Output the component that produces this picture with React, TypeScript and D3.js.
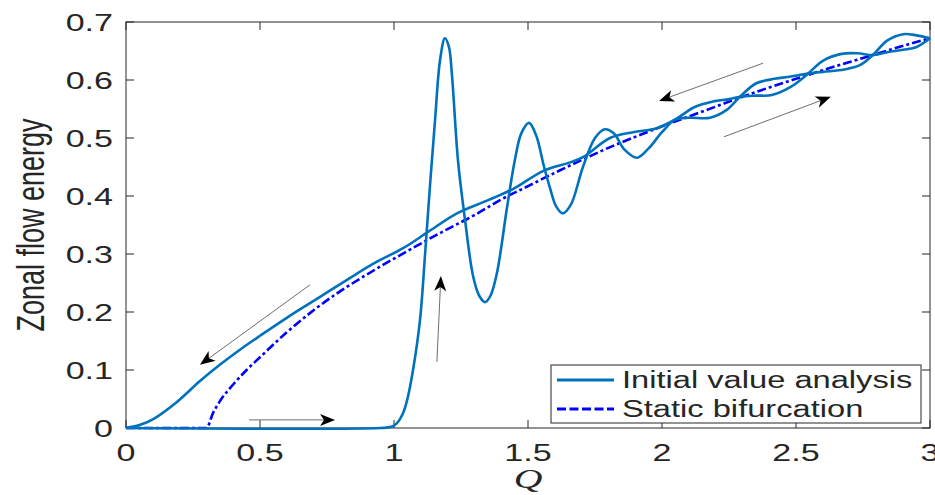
import React from "react";
import * as d3 from "d3";

// Up-sweep of Q (initial value analysis, forward branch)
const Q_UP = [0, 0.95, 0.99, 1.01, 1.034, 1.05, 1.071, 1.097, 1.116, 1.134, 1.153, 1.172, 1.19, 1.205, 1.216, 1.239, 1.265, 1.295, 1.318, 1.34, 1.36, 1.384, 1.422, 1.451, 1.475, 1.504, 1.53, 1.56, 1.582, 1.605, 1.63, 1.66, 1.705, 1.75, 1.787, 1.82, 1.86, 1.907, 1.95, 2.0, 2.05, 2.1, 2.18, 2.24, 2.291, 2.35, 2.42, 2.48, 2.545, 2.6, 2.68, 2.74, 2.787, 2.84, 2.9, 2.95, 3.0];
const E_UP = [0, 0, 0.002, 0.008, 0.026, 0.05, 0.1, 0.186, 0.3, 0.416, 0.53, 0.635, 0.672, 0.657, 0.61, 0.46, 0.359, 0.262, 0.228, 0.217, 0.228, 0.267, 0.381, 0.462, 0.508, 0.526, 0.505, 0.45, 0.414, 0.382, 0.37, 0.385, 0.45, 0.5, 0.515, 0.508, 0.48, 0.466, 0.482, 0.51, 0.532, 0.535, 0.535, 0.548, 0.571, 0.594, 0.602, 0.606, 0.611, 0.614, 0.618, 0.626, 0.643, 0.668, 0.679, 0.677, 0.672];

// Down-sweep of Q (initial value analysis, return branch)
const Q_DOWN = [0, 0.05, 0.1, 0.19, 0.276, 0.35, 0.425, 0.5, 0.6, 0.724, 0.847, 0.93, 1.034, 1.127, 1.235, 1.347, 1.444, 1.556, 1.657, 1.705, 1.806, 1.892, 1.98, 2.05, 2.12, 2.19, 2.25, 2.291, 2.35, 2.41, 2.48, 2.545, 2.6, 2.67, 2.73, 2.787, 2.84, 2.9, 2.95, 3.0];
const E_DOWN = [0, 0.005, 0.015, 0.045, 0.081, 0.109, 0.135, 0.159, 0.19, 0.226, 0.262, 0.285, 0.31, 0.338, 0.37, 0.392, 0.412, 0.443, 0.458, 0.467, 0.5, 0.51, 0.517, 0.532, 0.553, 0.563, 0.567, 0.571, 0.573, 0.574, 0.588, 0.611, 0.633, 0.645, 0.646, 0.643, 0.648, 0.652, 0.657, 0.672];

// Static bifurcation branch
const Q_STATIC = [0, 0.3, 0.325, 0.35, 0.4, 0.45, 0.5, 0.6, 0.7, 0.8, 0.9, 1.0, 1.1, 1.2, 1.3, 1.4, 1.5, 1.6, 1.7, 1.8, 1.9, 2.0, 2.1, 2.2, 2.3, 2.4, 2.5, 2.6, 2.7, 2.8, 2.9, 3.0];
const E_STATIC = [0, 0, 0.026, 0.046, 0.075, 0.1, 0.122, 0.165, 0.203, 0.236, 0.265, 0.292, 0.318, 0.343, 0.367, 0.394, 0.417, 0.44, 0.462, 0.483, 0.502, 0.52, 0.537, 0.554, 0.571, 0.587, 0.602, 0.617, 0.631, 0.645, 0.659, 0.672];

const X_TICKS = [0, 0.5, 1, 1.5, 2, 2.5, 3];
const Y_TICKS = [0, 0.1, 0.2, 0.3, 0.4, 0.5, 0.6, 0.7];

// Sweep-direction arrows, in data units: [Q start, E start, Q end, E end]
const ARROWS: [number, number, number, number][] = [
  [0.687, 0.247, 0.276, 0.109],
  [0.459, 0.014, 0.78, 0.014],
  [1.16, 0.114, 1.175, 0.262],
  [2.377, 0.629, 1.989, 0.564],
  [2.231, 0.502, 2.63, 0.571],
];

const LEGEND = ["Initial value analysis", "Static bifurcation"];

const W = 935;
const H = 495;
const SX = 1.42;
const FONT = "'Liberation Sans', Arial, Helvetica, sans-serif";
const AXIS = "#262626";
const C_IVA = "#0072BD";
const C_STATIC = "#0000FF";

const zip = (a: number[], b: number[]) => a.map((v, i) => [v, b[i]] as [number, number]);

export default function App() {
  const x = d3.scaleLinear().domain([0, 3]).range([126, 930]);
  const y = d3.scaleLinear().domain([0, 0.7]).range([428, 22]);
  const smooth = d3
    .line<[number, number]>()
    .x((d) => x(d[0]))
    .y((d) => y(d[1]))
    .curve(d3.curveCatmullRom.alpha(0.5));
  const mono = d3
    .line<[number, number]>()
    .x((d) => x(d[0]))
    .y((d) => y(d[1]))
    .curve(d3.curveMonotoneX);

  const [x0, x1] = x.range();
  const [yb, yt] = y.range();
  const tick = 8;

  const arrow = (a: [number, number, number, number], i: number) => {
    const sx = x(a[0]), sy = y(a[1]), ex = x(a[2]), ey = y(a[3]);
    const dx = ex - sx, dy = ey - sy;
    const len = Math.hypot(dx, dy);
    const ux = dx / len, uy = dy / len;
    const nx = -uy, ny = ux;
    const L = 15, w = 6, notch = 4;
    const bx = ex - L * ux, by = ey - L * uy;
    const mx = ex - (L - notch) * ux, my = ey - (L - notch) * uy;
    const head = `M${ex},${ey}L${bx + w * nx},${by + w * ny}L${mx},${my}L${bx - w * nx},${by - w * ny}Z`;
    return (
      <g key={i}>
        <line x1={sx} y1={sy} x2={mx} y2={my} stroke="#6e6e6e" strokeWidth={1} />
        <path d={head} fill="#000" />
      </g>
    );
  };

  const lgX = 551, lgY = 365, lgW = 370, lgH = 58;

  return (
    <svg
      width={W}
      height={H}
      viewBox={`0 0 ${W} ${H}`}
      style={{ position: "absolute", left: 0, top: 0, background: "#fff", display: "block" }}
    >
      <rect x={0} y={0} width={W} height={H} fill="#fff" />

      {/* axes box */}
      <rect x={x0} y={yt} width={x1 - x0} height={yb - yt} fill="none" stroke={AXIS} strokeWidth={1} />

      {/* ticks on all four sides, pointing inward */}
      {X_TICKS.map((t) => (
        <g key={"xt" + t}>
          <line x1={x(t)} x2={x(t)} y1={yb} y2={yb - tick} stroke={AXIS} />
          <line x1={x(t)} x2={x(t)} y1={yt} y2={yt + tick} stroke={AXIS} />
          <text
            transform={`translate(${x(t)},${461}) scale(${SX},1)`}
            textAnchor="middle"
            fontFamily={FONT}
            fontSize={24}
            fill={AXIS}
          >
            {String(t)}
          </text>
        </g>
      ))}
      {Y_TICKS.map((t) => (
        <g key={"yt" + t}>
          <line x1={x0} x2={x0 + tick} y1={y(t)} y2={y(t)} stroke={AXIS} />
          <line x1={x1} x2={x1 - tick} y1={y(t)} y2={y(t)} stroke={AXIS} />
          <text
            transform={`translate(${113},${y(t) + 8.5}) scale(${SX},1)`}
            textAnchor="end"
            fontFamily={FONT}
            fontSize={24}
            fill={AXIS}
          >
            {String(t)}
          </text>
        </g>
      ))}

      {/* axis titles */}
      <text
        transform={`translate(${44},${(yb + yt) / 2}) rotate(-90) scale(1,${SX})`}
        textAnchor="middle"
        fontFamily={FONT}
        fontSize={27}
        fill={AXIS}
      >
        Zonal flow energy
      </text>
      <text
        transform={`translate(${(x0 + x1) / 2},${488}) scale(${SX},1)`}
        textAnchor="middle"
        fontFamily="'Liberation Serif', 'Times New Roman', serif"
        fontStyle="italic"
        fontSize={28}
        fill={AXIS}
      >
        Q
      </text>

      {/* curves */}
      <path d={mono(zip(Q_STATIC, E_STATIC)) || ""} fill="none" stroke={C_STATIC} strokeWidth={2.6} strokeDasharray="9,3,3,3" />
      <path d={smooth(zip(Q_DOWN, E_DOWN)) || ""} fill="none" stroke={C_IVA} strokeWidth={2.6} />
      <path d={smooth(zip(Q_UP, E_UP)) || ""} fill="none" stroke={C_IVA} strokeWidth={2.6} />

      {/* sweep direction arrows */}
      {ARROWS.map(arrow)}

      {/* legend */}
      <rect x={lgX} y={lgY} width={lgW} height={lgH} fill="#fff" stroke={AXIS} strokeWidth={1} />
      <line x1={lgX + 6} x2={lgX + 63} y1={lgY + 15} y2={lgY + 15} stroke={C_IVA} strokeWidth={3} />
      <line x1={lgX + 6} x2={lgX + 63} y1={lgY + 44} y2={lgY + 44} stroke={C_STATIC} strokeWidth={3} strokeDasharray="9,3.5" />
      {LEGEND.map((s, i) => (
        <text
          key={s}
          transform={`translate(${lgX + 71},${lgY + 23 + i * 29}) scale(${SX},1)`}
          fontFamily={FONT}
          fontSize={23}
          fill={AXIS}
        >
          {s}
        </text>
      ))}
    </svg>
  );
}
